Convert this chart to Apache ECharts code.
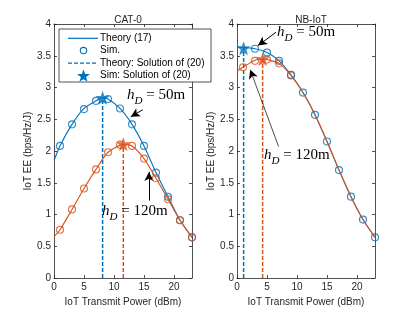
<!DOCTYPE html>
<html><head><meta charset="utf-8">
<script src="https://cdn.jsdelivr.net/npm/echarts@6/dist/echarts.min.js"></script>
<style>html,body{margin:0;padding:0;background:#fff}#c{width:415px;height:312px}</style>
</head><body><div id="c"></div>
<script>
// ---- data ----
const titles = ['CAT-0', 'NB-IoT'];
const xTicks = { min: 0, max: 23, interval: 5 };
const yTicks = { min: 0, max: 4, interval: 0.5 };
// CAT-0, h_D = 50m
const cat0_50_theory = [[0,1.85],[1,2.08],[3,2.42],[5,2.67],[7,2.79],[8.1,2.84],[9,2.82],[11,2.67],[13,2.42],[15,2.08],[17,1.66],[19,1.28],[21,0.91],[23,0.64]];
const cat0_50_sim = [[1,2.08],[3,2.42],[5,2.66],[7,2.79],[9,2.82],[11,2.67],[13,2.42],[15,2.08],[17,1.66],[19,1.28],[21,0.91],[23,0.64]];
const cat0_50_opt = [8.1, 2.84];
// CAT-0, h_D = 120m
const cat0_120_theory = [[0,0.65],[1,0.76],[3,1.08],[5,1.41],[7,1.71],[9,1.98],[11.55,2.10],[13,2.08],[15,1.88],[17,1.57],[19,1.24],[21,0.91],[23,0.64]];
const cat0_120_sim = [[1,0.76],[3,1.08],[5,1.41],[7,1.71],[9,1.98],[11,2.10],[13,2.08],[15,1.88],[17,1.57],[19,1.24],[21,0.91],[23,0.64]];
const cat0_120_opt = [11.55, 2.11];
// NB-IoT, h_D = 50m
const nb_50_theory = [[0,3.64],[1.1,3.63],[3,3.61],[5,3.55],[7,3.42],[9,3.20],[11,2.92],[13,2.57],[15,2.15],[17,1.70],[19,1.28],[21,0.92],[23,0.64]];
const nb_50_sim = [[3,3.61],[5,3.55],[7,3.42],[9,3.20],[11,2.92],[13,2.57],[15,2.15],[17,1.70],[19,1.28],[21,0.92],[23,0.64]];
const nb_50_opt = [1.1, 3.62];
// NB-IoT, h_D = 120m
const nb_120_theory = [[0,3.26],[1,3.32],[3,3.43],[4.27,3.45],[5,3.44],[7,3.38],[9,3.19],[11,2.92],[13,2.57],[15,2.15],[17,1.70],[19,1.28],[21,0.92],[23,0.64]];
const nb_120_sim = [[1,3.32],[3,3.42],[5,3.44],[7,3.38],[9,3.19]];
const nb_120_opt = [4.27, 3.45];
// annotation arrows [tail, head] in data coords, per grid
const arrows = [
  { grid: 0, from: [14.8, 2.65], to: [12.8, 2.54], w: 1 },
  { grid: 0, from: [15.83, 1.22], to: [15.83, 1.67], w: 1 },
  { grid: 1, from: [6.5, 3.87], to: [3.5, 3.66], w: 1 },
  { grid: 1, from: [6.93, 2.07], to: [2.2, 3.28], w: 0.7 }
];
const legendNames = ['Theory (17)', 'Sim.', 'Theory: Solution of (20)', 'Sim: Solution of (20)'];

// ---- style ----
const BLUE = '#0072BD', ORANGE = '#D95319', AX = '#262626';
const STAR_PTS = [[0,-10],[2.35,-3.24],[9.51,-3.09],[3.8,1.24],[5.88,8.09],[0,4.5],[-5.88,8.09],[-3.8,1.24],[-9.51,-3.09],[-2.35,-3.24]];
const STAR = 'path://M' + STAR_PTS.map(p => p.join(',')).join('L') + 'Z';
const FONT = 'Liberation Sans, Arial, sans-serif';

function xAx(g, top) {
  return Object.assign({
    type: 'value', gridIndex: g, position: top ? 'top' : 'bottom',
    splitLine: { show: false },
    axisLine: { show: true, onZero: false, lineStyle: { color: AX, width: 0.8 } },
    axisTick: { show: true, inside: true, length: 3, lineStyle: { color: AX, width: 0.8 } },
    axisLabel: { show: !top, color: AX, fontSize: 10, fontFamily: FONT, margin: 4, showMaxLabel: false },
    name: top ? '' : 'IoT Transmit Power (dBm)', nameLocation: 'middle', nameGap: 15,
    nameTextStyle: { color: AX, fontSize: 10, fontFamily: FONT }
  }, xTicks);
}
function yAx(g, right) {
  return Object.assign({
    type: 'value', gridIndex: g, position: right ? 'right' : 'left',
    splitLine: { show: false },
    axisLine: { show: true, onZero: false, lineStyle: { color: AX, width: 0.8 } },
    axisTick: { show: true, inside: true, length: 3, lineStyle: { color: AX, width: 0.8 } },
    axisLabel: { show: !right, color: AX, fontSize: 10, fontFamily: FONT, margin: 3 },
    name: right ? '' : 'IoT EE (bps/Hz/J)', nameLocation: 'middle', nameGap: 15,
    nameTextStyle: { color: AX, fontSize: 10, fontFamily: FONT }
  }, yTicks);
}

function theory(name, g, data, color, z) {
  return { name, type: 'line', xAxisIndex: g, yAxisIndex: g, data, smooth: 0.25,
    showSymbol: false, symbol: 'none', lineStyle: { color, width: 1.1 }, itemStyle: { color }, z, silent: true };
}
function sim(name, g, data, color, z, bw) {
  return { name, type: 'scatter', xAxisIndex: g, yAxisIndex: g, data, symbol: 'circle', symbolSize: 7,
    itemStyle: { color: 'rgba(255,255,255,0)', borderColor: color, borderWidth: bw || 1.1 }, z, silent: true };
}
function optLine(name, g, pt, color, z) {
  return { name, type: 'line', xAxisIndex: g, yAxisIndex: g, data: [[pt[0], 0], [pt[0], pt[1]]],
    showSymbol: false, symbol: 'none', lineStyle: { color, width: 1.5, type: [4, 2] }, itemStyle: { color }, z, silent: true };
}
function star(name, g, pt, color, z) {
  return { name, type: 'scatter', xAxisIndex: g, yAxisIndex: g, data: [pt], symbol: STAR, symbolSize: 14,
    itemStyle: { color, borderWidth: 0 }, z, silent: true };
}

const series = [
  // CAT-0
  optLine(legendNames[2], 0, cat0_50_opt, BLUE, 2),
  optLine('o120dash', 0, cat0_120_opt, ORANGE, 2),
  theory(legendNames[0], 0, cat0_50_theory, BLUE, 3),
  sim(legendNames[1], 0, cat0_50_sim, BLUE, 4),
  theory('o120', 0, cat0_120_theory, ORANGE, 5),
  sim('o120sim', 0, cat0_120_sim, ORANGE, 6),
  star(legendNames[3], 0, cat0_50_opt, BLUE, 7),
  star('o120star', 0, cat0_120_opt, ORANGE, 7),
  // NB-IoT
  optLine('nb50dash', 1, nb_50_opt, BLUE, 2),
  optLine('nb120dash', 1, nb_120_opt, ORANGE, 2),
  theory('nb50', 1, nb_50_theory, BLUE, 3),
  sim('nb120sim', 1, nb_120_sim, ORANGE, 4, 1.1),
  sim('nb50sim', 1, nb_50_sim, BLUE, 5, 1.2),
  theory('nb120', 1, nb_120_theory, ORANGE, 6),
  star('nb50star', 1, nb_50_opt, BLUE, 7),
  star('nb120star', 1, nb_120_opt, ORANGE, 7)
];
// arrows via markLine
arrows.forEach((a, i) => {
  series.push({
    name: 'arrow' + i, type: 'line', xAxisIndex: a.grid, yAxisIndex: a.grid, data: [], silent: true, z: 8,
    markLine: {
      silent: true, animation: false, symbol: ['none', 'arrow'], symbolSize: [7, 9],
      label: { show: false }, lineStyle: { color: '#000', width: a.w, type: 'solid' },
      data: [[{ coord: a.from }, { coord: a.to }]]
    }
  });
});

const rich = {
  i: { fontFamily: 'Liberation Serif, serif', fontStyle: 'italic', fontSize: 15, lineHeight: 17, padding: [0, 0, 4, 0], verticalAlign: 'bottom', color: '#000' },
  s: { fontFamily: 'Liberation Serif, serif', fontStyle: 'italic', fontSize: 11, lineHeight: 12, verticalAlign: 'bottom', color: '#000' },
  r: { fontFamily: 'Liberation Serif, serif', fontSize: 15, lineHeight: 17, padding: [0, 0, 4, 0], verticalAlign: 'bottom', color: '#000' }
};
function ann(x, y, txt) {
  return { type: 'text', left: x, top: y, z: 100, style: { text: '{i|h}{s|D}{r| = ' + txt + '}', rich } };
}

// legend drawn as graphic elements (box + samples + labels)
const LX = 59, LY = 29, LW = 152, LH = 53;
const rowY = [38.3, 50.6, 63.2, 75.6];
const lt = { fontSize: 10, fontFamily: FONT, fill: '#000', verticalAlign: 'middle', align: 'left' };
const legendGraphic = [
  { type: 'rect', z: 90, shape: { x: LX, y: LY, width: LW, height: LH }, style: { fill: '#fff', stroke: AX, lineWidth: 0.8 } },
  { type: 'line', z: 91, shape: { x1: 68, y1: rowY[0], x2: 98, y2: rowY[0] }, style: { stroke: BLUE, lineWidth: 1.2 } },
  { type: 'circle', z: 91, shape: { cx: 83.5, cy: rowY[1], r: 3.2 }, style: { fill: 'none', stroke: BLUE, lineWidth: 1.1 } },
  { type: 'line', z: 91, shape: { x1: 68, y1: rowY[2], x2: 98, y2: rowY[2] }, style: { stroke: BLUE, lineWidth: 1.2, lineDash: [4, 2] } },
  { type: 'polygon', z: 91, shape: { points: STAR_PTS.map(p => [83.5 + p[0] * 0.68, rowY[3] + 0.5 + p[1] * 0.68]) }, style: { fill: BLUE } }
].concat(legendNames.map((n, i) => ({ type: 'text', z: 91, x: 100, y: rowY[i], style: Object.assign({ text: n }, lt) })));

const option = {
  animation: false,
  backgroundColor: '#fff',
  title: [
    { text: titles[0], left: 123, top: 10, textAlign: 'center', textStyle: { fontSize: 10, fontWeight: 'normal', color: AX, fontFamily: FONT } },
    { text: titles[1], left: 306, top: 10, textAlign: 'center', textStyle: { fontSize: 10, fontWeight: 'normal', color: AX, fontFamily: FONT } }
  ],
  grid: [
    { left: 54, top: 24, width: 138, height: 254 },
    { left: 237, top: 24, width: 138, height: 254 }
  ],
  xAxis: [xAx(0, false), xAx(1, false), xAx(0, true), xAx(1, true)],
  yAxis: [yAx(0, false), yAx(1, false), yAx(0, true), yAx(1, true)],
  graphic: legendGraphic.concat([
    ann(127, 88, '50m'),
    ann(102, 204, '120m'),
    ann(277, 25, '50m'),
    ann(264, 148, '120m')
  ]),
  series
};
const chart = echarts.init(document.getElementById('c'), null, { renderer: 'canvas' });
chart.setOption(option);
</script></body></html>
